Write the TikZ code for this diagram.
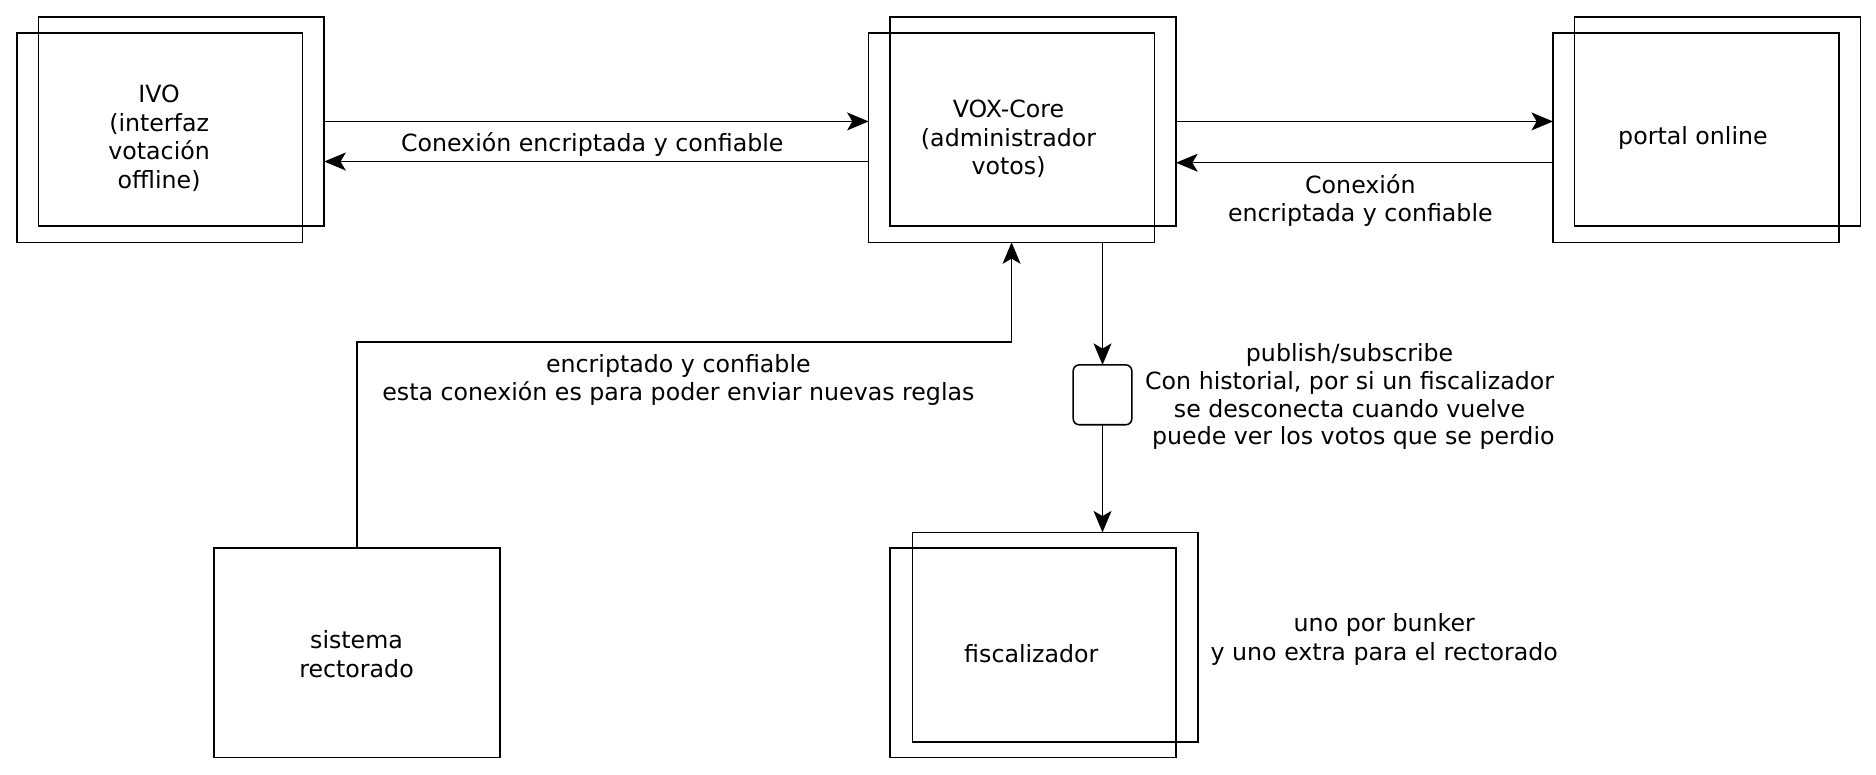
\documentclass[tikz,border=0pt]{standalone}
\usepackage{fontspec}
\setmainfont{DejaVu Sans}
\usetikzlibrary{arrows.meta}
\begin{document}
\begin{tikzpicture}[x=0.5pt,y=-0.5pt,
  every node/.style={font=\fontsize{9.9}{12}\selectfont, inner sep=0pt, outer sep=0pt},
  box/.style={draw, line width=0.65pt, minimum width=119.5pt, minimum height=87.5pt},
  pubbox/.style={draw, line width=0.65pt, rounded corners=2.5pt, minimum width=24.5pt, minimum height=25pt},
  lbl/.style={align=center},
  conn/.style={line width=0.6pt},
  arr/.style={conn, -{Stealth[length=9pt,width=7.5pt,inset=2.2pt]}}]
\useasboundingbox (0,0) rectangle (1568,647);
% IVO
\node[box] (ivob) at (151.5,101.5) {};
\node[box] (ivof) at (133.5,115) {};
\node[lbl] (ivot) at (133,115.5) {IVO\\(interfaz\\votación\\offline)};
% VOX-Core
\node[box] (voxb) at (863.5,101.5) {};
\node[box] (voxf) at (845.5,115) {};
\node[lbl] (voxt) at (843,116) {VOX-Core\\(administrador\\votos)};
% portal online
\node[box] (porb) at (1435.5,101.5) {};
\node[box] (porf) at (1417.5,115) {};
\node[lbl] (port) at (1415,115.5) {portal online};
% publish/subscribe
\node[pubbox] (pub) at (921.5,330) {};
% fiscalizador
\node[box] (fisb) at (882,532.5) {};
\node[box] (fisf) at (863.5,545.5) {};
\node[lbl] (fist) at (862,546.5) {fiscalizador};
% sistema rectorado
\node[box] (sis) at (298.5,545.5) {};
\node[lbl] (sist) at (298,546.5) {sistema\\rectorado};
% labels
\node[lbl] (l1) at (495,120.5) {Conexión encriptada y confiable};
\node[lbl] (l2) at (1137,167.5) {Conexión\\encriptada y confiable};
\node[lbl] (l3) at (567,317.5) {encriptado y confiable\\esta conexión es para poder enviar nuevas reglas};
\node[lbl, font=\fontsize{9.9}{11.6}\selectfont] (l4) at (1128,331.5) {publish/subscribe\\Con historial, por si un fiscalizador\\se desconecta cuando vuelve\\\ puede ver los votos que se perdio};
\node[lbl] (l5) at (1157,534.5) {uno por bunker\\y uno extra para el rectorado};
% connectors
\draw[arr] (ivob.east) -- (ivob.east -| voxf.west);
\draw[arr] ([yshift=-10pt]voxf.west) -- ([yshift=-10pt]voxf.west -| ivob.east);
\draw[arr] (voxb.east) -- (voxb.east -| porf.west);
\draw[arr] ([yshift=-10.5pt]porf.west) -- ([yshift=-10.5pt]porf.west -| voxb.east);
\draw[arr] (pub.north |- voxf.south) -- (pub.north);
\draw[arr] (pub.south) -- (pub.south |- fisb.north);
\coordinate (bend) at (298.5,286);
\draw[arr] (sis.north) -- (bend) -| (voxf.south);
\end{tikzpicture}
\end{document}
